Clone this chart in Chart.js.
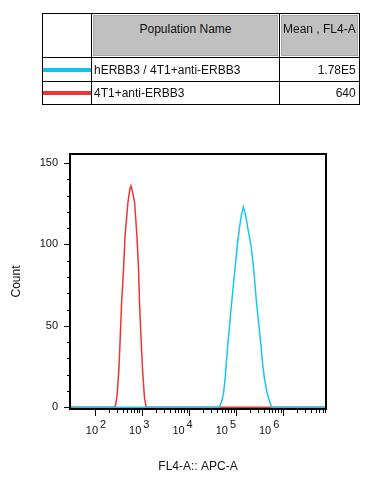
<!DOCTYPE html>
<html>
<head>
<meta charset="utf-8">
<script src="https://cdn.jsdelivr.net/npm/chart.js@4.4.0/dist/chart.umd.min.js"></script>
<style>
  html, body { margin: 0; padding: 0; background: #fff; }
  body { width: 371px; height: 486px; position: relative; overflow: hidden;
         font-family: "Liberation Sans", Arial, sans-serif; }
  #chart { position: absolute; left: 0; top: 0; }
  table.pop { position: absolute; left: 42px; top: 13px; border-collapse: collapse;
              table-layout: fixed; font-size: 12px; color: #111; }
  table.pop td { border: 1px solid #000; padding: 0; white-space: nowrap; overflow: hidden; }
  table.pop tr.head td { height: 43px; vertical-align: top; }
  table.pop tr.row td { vertical-align: middle; }
  td.hdr { background: #c0c0c0; box-shadow: inset 0 0 0 1px #fff, inset 0 0 0 2px #a8a8a8; }
  td.hdr span { display: block; padding-top: 8px; overflow: hidden; }
  td.name { padding-left: 2px !important; }
  td.val { text-align: right; padding-right: 3px !important; }
  .swatch { height: 4px; width: 100%; }
</style>
</head>
<body>
<canvas id="chart" width="371" height="486"></canvas>
<table class="pop">
  <colgroup><col style="width:49px"><col style="width:188px"><col style="width:77px"></colgroup>
  <tr class="head">
    <td></td>
    <td class="hdr"><span style="text-align:center">Population Name</span></td>
    <td class="hdr"><span style="padding-left:3px;margin-right:3px">Mean , FL4-A</span></td>
  </tr>
  <tr class="row" style="height:24px">
    <td><div class="swatch" style="background:#10c4ee"></div></td>
    <td class="name">hERBB3 / 4T1+anti-ERBB3</td>
    <td class="val">1.78E5</td>
  </tr>
  <tr class="row" style="height:23px">
    <td><div class="swatch" style="background:#f03434"></div></td>
    <td class="name">4T1+anti-ERBB3</td>
    <td class="val">640</td>
  </tr>
</table>
<script>
// histogram outlines (FL4-A intensity, count)
const cyanX = [30, 44500, 50700, 54800, 59600, 63500, 68000, 73500, 78700, 85100, 92500,
               100500, 108700, 119900, 132100, 145500, 162200, 180700, 209400, 230700,
               249500, 267300, 289100, 314100, 341300, 369000, 406400, 471000, 519800,
               583400, 8300000];
const cyanY = [0, 0, 4, 8, 18, 28, 39, 49, 59, 69, 80, 90, 100, 110, 118, 123, 118, 110,
               100, 90, 80, 69, 59, 49, 39, 28, 18, 8, 4, 0, 0];

const redX = [30, 251, 279, 302, 328, 352, 375, 413, 443, 512, 562, 593, 631, 708, 794,
              859, 902, 966, 1045, 1148, 1253, 8300000];
const redY = [0, 0, 1, 8, 23, 44, 64, 85, 105, 126, 134, 136, 133, 126, 105, 85, 64, 44,
              23, 6, 0, 0];

const xDecades = [2, 3, 4, 5, 6];
const yTicks = [0, 50, 100, 150];

const font = '"Liberation Sans", Arial, sans-serif';
Chart.defaults.font.family = font;
Chart.defaults.color = '#111';

// frame, tick marks and 10^n labels like FlowJo draws them
const axisDeco = {
  id: 'axisDeco',
  afterDraw(chart) {
    const { ctx, chartArea: a, scales: { x, y } } = chart;
    ctx.save();
    ctx.strokeStyle = '#000';
    ctx.lineWidth = 2;
    ctx.strokeRect(a.left, a.top, a.right - a.left, a.bottom - a.top);

    ctx.lineWidth = 1;
    ctx.beginPath();
    for (let v = 0; v <= 150; v += 10) {
      const py = Math.round(y.getPixelForValue(v)) + 0.5;
      const len = v % 50 === 0 ? 6 : 3;
      ctx.moveTo(a.left - len, py);
      ctx.lineTo(a.left, py);
    }
    xDecades.forEach(e => {
      for (let m = 1; m <= 9; m++) {
        const v = m * Math.pow(10, e);
        if (v > x.max) break;
        const px = Math.round(x.getPixelForValue(v)) + 0.5;
        const len = m === 1 ? 7 : 4;
        ctx.moveTo(px, a.bottom);
        ctx.lineTo(px, a.bottom + len);
      }
    });
    ctx.stroke();

    // labels drift a little left of their ticks in the original export
    ctx.fillStyle = '#111';
    ctx.textBaseline = 'alphabetic';
    ctx.textAlign = 'left';
    ctx.font = '11px ' + font;
    xDecades.forEach(e => {
      const cx = x.getPixelForValue(Math.pow(10, 2.03 + 0.92 * (e - 2)));
      const exp = String(e);
      const w10 = ctx.measureText('10').width;
      const wExp = ctx.measureText(exp).width;
      const left = cx - (w10 + 2 + wExp) / 2;
      ctx.fillText('10', left, a.bottom + 25);
      ctx.fillText(exp, left + w10 + 2, a.bottom + 19);
    });
    ctx.restore();
  }
};

new Chart(document.getElementById('chart'), {
  type: 'line',
  data: {
    datasets: [
      {
        label: 'hERBB3 / 4T1+anti-ERBB3',
        data: cyanX.map((v, i) => ({ x: v, y: cyanY[i] })),
        borderColor: '#18c6f0',
        borderWidth: 1.5,
        pointRadius: 0,
        tension: 0,
        fill: false
      },
      {
        label: '4T1+anti-ERBB3',
        data: redX.map((v, i) => ({ x: v, y: redY[i] })),
        borderColor: '#f03434',
        borderWidth: 1.5,
        pointRadius: 0,
        tension: 0,
        fill: false
      }
    ]
  },
  options: {
    responsive: false,
    animation: false,
    devicePixelRatio: 1,
    layout: { padding: { top: 154, right: 45, left: 0, bottom: 0 } },
    plugins: { legend: { display: false }, tooltip: { enabled: false } },
    scales: {
      x: {
        type: 'logarithmic',
        min: 30,
        max: 8300000,
        grid: { display: false, drawTicks: false },
        border: { display: false },
        ticks: { display: false },
        title: { display: true, text: 'FL4-A:: APC-A', color: '#111',
                 font: { size: 12 }, padding: { top: 0, bottom: 12 } },
        afterFit(scale) { scale.height = 77; }
      },
      y: {
        min: -1,
        max: 155.5,
        grid: { display: false, drawTicks: false },
        border: { display: false },
        afterBuildTicks(scale) { scale.ticks = yTicks.map(v => ({ value: v })); },
        ticks: { font: { size: 11 }, padding: 12, color: '#111' },
        title: { display: true, text: 'Count', color: '#111',
                 font: { size: 12 }, padding: { top: 9, bottom: 0 } },
        afterFit(scale) { scale.width = 70; }
      }
    }
  },
  plugins: [axisDeco]
});
</script>
</body>
</html>
